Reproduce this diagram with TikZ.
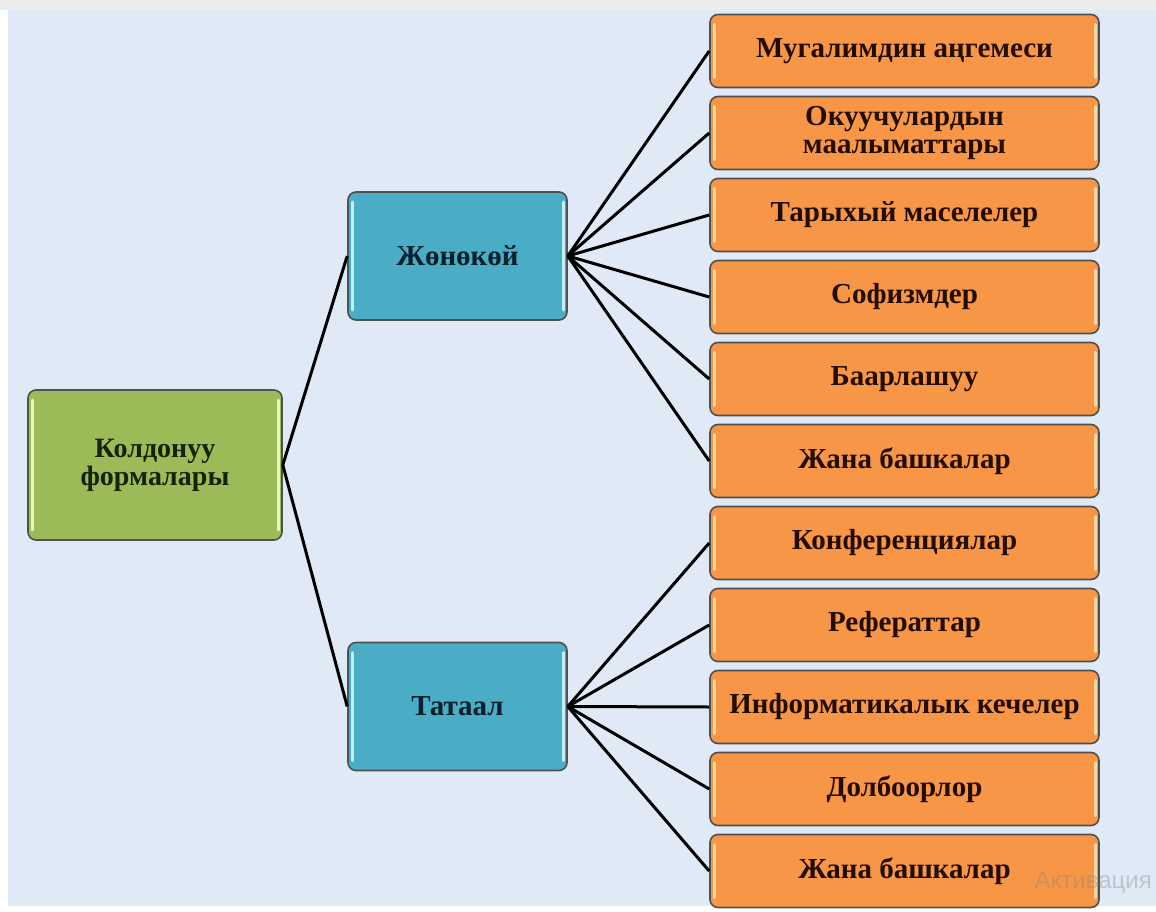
\documentclass[tikz,border=0pt]{standalone}
\usepackage{fontspec}
\setmainfont{Liberation Serif}
\newfontfamily\wmfont{Liberation Sans}
\definecolor{bgblue}{RGB}{223,234,246}
\definecolor{bordergray}{RGB}{80,80,80}
\definecolor{orangefill}{RGB}{247,150,70}
\definecolor{orangehl}{RGB}{253,214,160}
\definecolor{bluefill}{RGB}{75,172,198}
\definecolor{bluehl}{RGB}{190,240,250}
\definecolor{greenfill}{RGB}{155,187,89}
\definecolor{greenhl}{RGB}{235,248,180}
\definecolor{orangetext}{RGB}{35,12,0}
\definecolor{bluetext}{RGB}{10,32,45}
\definecolor{greentext}{RGB}{20,34,5}
\tikzset{
  x=1pt, y=-1pt,
  boxbase/.style={draw=bordergray, line width=1.6pt, rounded corners=8pt,
    align=center, inner sep=0pt, font=\bfseries\fontsize{29}{28}\selectfont},
  hilite/.style={path picture={
    \draw[#1, line width=3pt, line cap=round]
      ([xshift=4pt,yshift=10pt]path picture bounding box.south west) --
      ([xshift=4pt,yshift=-10pt]path picture bounding box.north west);
    \draw[#1, line width=3pt, line cap=round]
      ([xshift=-4pt,yshift=10pt]path picture bounding box.south east) --
      ([xshift=-4pt,yshift=-10pt]path picture bounding box.north east);}},
  leafbox/.style={boxbase, fill=orangefill, text=orangetext, hilite=orangehl,
    minimum width=389pt, minimum height=73pt},
  midbox/.style={boxbase, fill=bluefill, text=bluetext, hilite=bluehl,
    minimum width=219pt, minimum height=128pt},
  rootbox/.style={boxbase, fill=greenfill, text=greentext, hilite=greenhl,
    minimum width=254pt, minimum height=150pt, font=\bfseries\fontsize{28}{28}\selectfont},
  link/.style={line width=3pt, black}
}
\begin{document}
\begin{tikzpicture}
\useasboundingbox (0,0) rectangle (1156,912);
\fill[white] (0,0) rectangle (1156,912);
\fill[gray!15] (0,0) rectangle (1156,10);
\fill[bgblue] (8,10) rectangle (1156,906);

\node[rootbox] (root) at (155,465) {Колдонуу\\формалары};
\node[midbox] (simple) at (457.5,256) {Жөнөкөй};
\node[midbox] (complex) at (457.5,706.5) {Татаал};

\node[leafbox] (a1) at (904.5,51) {Мугалимдин аңгемеси};
\node[leafbox] (a2) at (904.5,133) {Окуучулардын\\маалыматтары};
\node[leafbox] (a3) at (904.5,215) {Тарыхый маселелер};
\node[leafbox] (a4) at (904.5,297) {Софизмдер};
\node[leafbox] (a5) at (904.5,379) {Баарлашуу};
\node[leafbox] (a6) at (904.5,461) {Жана башкалар};
\node[leafbox] (b1) at (904.5,543) {Конференциялар};
\node[leafbox] (b2) at (904.5,625) {Рефераттар};
\node[leafbox] (b3) at (904.5,707) {Информатикалык кечелер};
\node[leafbox] (b4) at (904.5,789) {Долбоорлор};
\node[leafbox] (b5) at (904.5,871) {Жана башкалар};

\draw[link] (root.east) -- (simple.west);
\draw[link] (root.east) -- (complex.west);
\foreach \n in {a1,a2,a3,a4,a5,a6}{\draw[link] (simple.east) -- (\n.west);}
\foreach \n in {b1,b2,b3,b4,b5}{\draw[link] (complex.east) -- (\n.west);}

\node[anchor=base east, text=gray, opacity=0.35, inner sep=0pt,
  font=\wmfont\fontsize{24}{24}\selectfont] (wm) at (1152,888) {Активация};
\end{tikzpicture}
\end{document}
